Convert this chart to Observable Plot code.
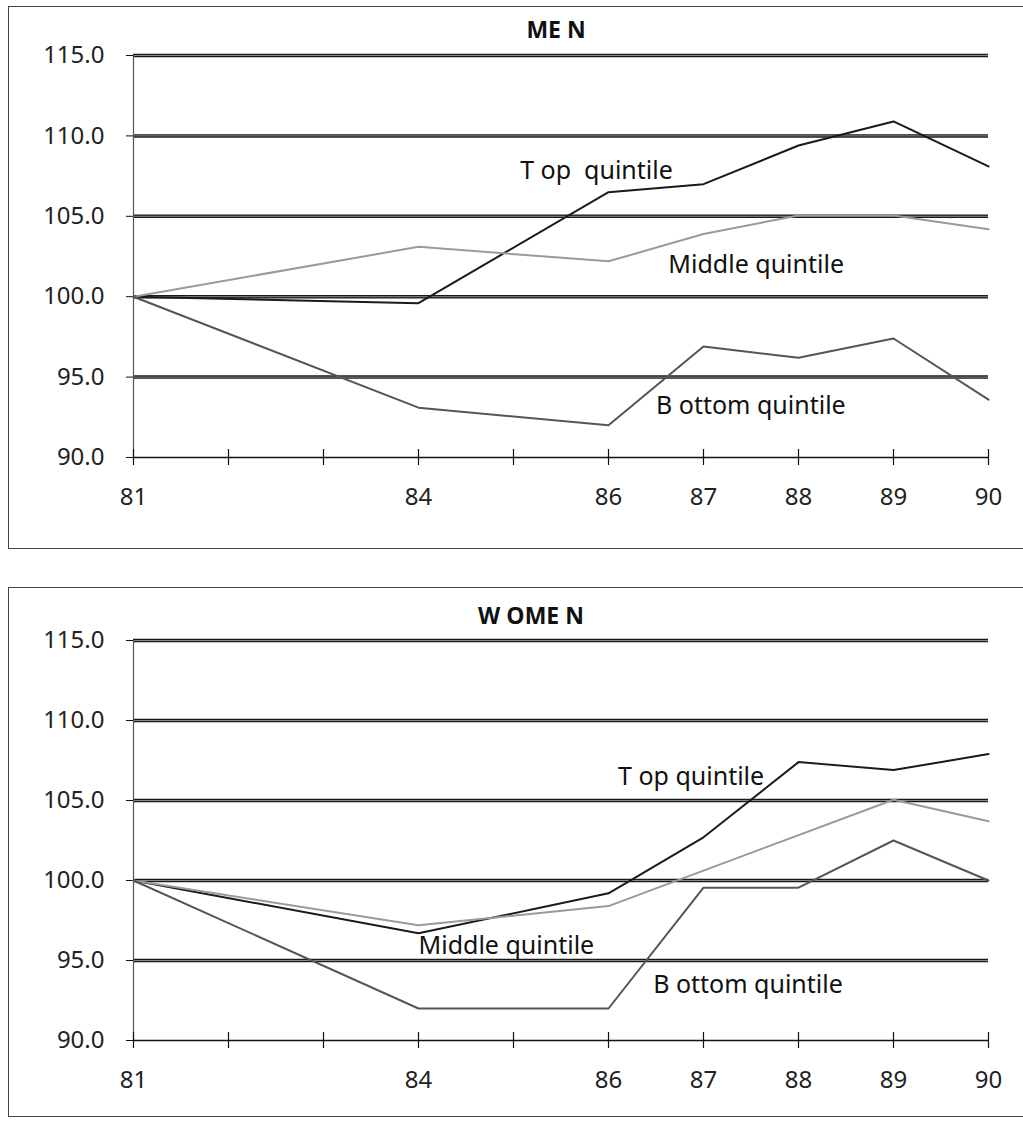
<!DOCTYPE html>
<html><head><meta charset="utf-8">
<script src="https://cdn.jsdelivr.net/npm/d3@7"></script>
<script src="https://cdn.jsdelivr.net/npm/@observablehq/plot@0.6"></script>
<style>
body{margin:0;background:#fff;width:1023px;height:1129px;overflow:hidden;position:relative;font-family:"Noto Sans",sans-serif}
.panel{position:absolute;left:8px;width:1030px;border:1px solid #444;box-sizing:border-box}
.title{position:absolute;width:300px;text-align:center;font-family:"Open Sans",sans-serif;font-weight:700;font-size:23px;color:#111;line-height:1}
.chart{position:absolute;left:0}
</style></head><body>
<div class="panel" style="top:6px;height:543px"></div>
<div class="panel" style="top:587px;height:530px"></div>
<div class="title" style="left:406px;top:18px">ME N</div>
<div class="title" style="left:381px;top:604px">W OME N</div>
<div id="c1" class="chart" style="top:0px"></div>
<div id="c2" class="chart" style="top:585px"></div>
<script>
const years = [81, 84, 86, 87, 88, 89, 90];
const allYears = [81, 82, 83, 84, 85, 86, 87, 88, 89, 90];
const labelYears = [81, 84, 86, 87, 88, 89, 90];
const yTicks = [90, 95, 100, 105, 110, 115];
const gridValues = [95, 100, 105, 110, 115];
const seriesNames = ["Top", "Middle", "Bottom"];
const seriesColors = ["#1a1a1a", "#9a9a9a", "#555555"];

const menTop    = [100, 99.6, 106.5, 107.0, 109.4, 110.9, 108.1];
const menMiddle = [100, 103.1, 102.2, 103.9, 105.05, 105.05, 104.2];
const menBottom = [100, 93.1, 92.0, 96.9, 96.2, 97.4, 93.6];

const womenTop    = [100, 96.7, 99.2, 102.7, 107.4, 106.9, 107.9];
const womenMiddle = [100, 97.2, 98.4, null, null, 105.05, 103.7];
const womenBottom = [100, 92.0, 92.0, 99.55, 99.55, 102.5, 100.0];

const menLabelText = ["T op  quintile", "Middle quintile", "B ottom quintile"];
const menLabelX = [85.07, 86.63, 86.5];
const menLabelY = [107.8, 102.0, 93.2];
const womenLabelText = ["T op quintile", "Middle quintile", "B ottom quintile"];
const womenLabelX = [86.1, 84.0, 86.47];
const womenLabelY = [106.45, 95.9, 93.5];

function rows(values) {
  const out = [];
  values.forEach((vals, s) => vals.forEach((v, i) => {
    if (v != null) out.push({series: seriesNames[s], year: years[i], value: v});
  }));
  return out;
}

function chart(values, labelText, labelX, labelY, bottom) {
  const data = rows(values);
  const labels = labelText.map((t, i) => ({text: t, x: labelX[i], y: labelY[i]}));
  return Plot.plot({
    width: 1023,
    height: 550,
    marginLeft: 133,
    marginRight: 35,
    marginTop: 55,
    marginBottom: bottom,
    style: {fontFamily: "'Noto Sans', sans-serif", fontSize: "24px", color: "#222", background: "transparent"},
    x: {domain: [81, 90]},
    y: {domain: [90, 115]},
    color: {domain: seriesNames, range: seriesColors},
    marks: [
      Plot.ruleY(gridValues, {stroke: "#1a1a1a", strokeWidth: 3.5}),
      Plot.ruleY(gridValues, {stroke: "#8a8a8a", strokeWidth: 1}),
      Plot.ruleX([81], {stroke: "#555", strokeWidth: 1.2}),
      Plot.ruleY([90], {stroke: "#111", strokeWidth: 1.3}),
      Plot.ruleX(allYears, {x: d => d, y1: 90, y2: 90, insetTop: -8, insetBottom: -8, stroke: "#111", strokeWidth: 1.2}),
      Plot.axisX({ticks: allYears, tickSize: 0, tickPadding: 30, tickFormat: d => labelYears.includes(d) ? String(d) : "", label: null, fontSize: 24}),
      Plot.axisY({ticks: yTicks, tickSize: 7, tickPadding: 22, tickFormat: d => d.toFixed(1), label: null, fontSize: 24, stroke: "#111"}),
      Plot.line(data, {x: "year", y: "value", z: "series", stroke: "series", strokeWidth: 2}),
      Plot.text(labels, {x: "x", y: "y", text: "text", textAnchor: "start", fontSize: 25, fill: "#111", letterSpacing: "0.4px"})
    ]
  });
}

document.getElementById("c1").appendChild(chart([menTop, menMiddle, menBottom], menLabelText, menLabelX, menLabelY, 93));
document.getElementById("c2").appendChild(chart([womenTop, womenMiddle, womenBottom], womenLabelText, womenLabelX, womenLabelY, 95));
</script>
</body></html>
